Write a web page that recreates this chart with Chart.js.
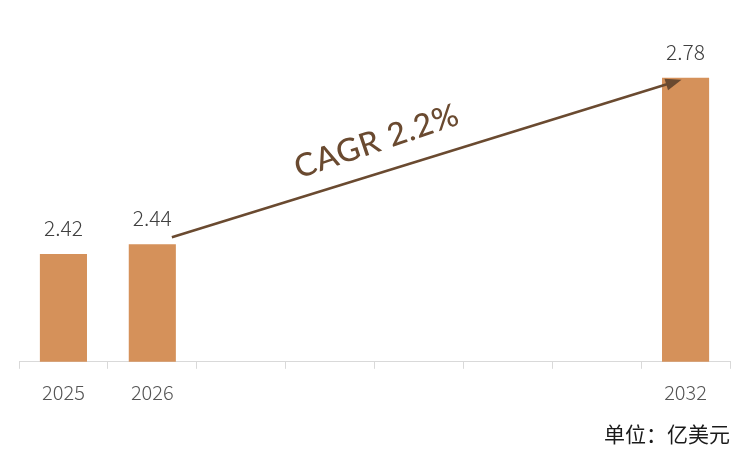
<!DOCTYPE html>
<html>
<head>
<meta charset="utf-8">
<script src="https://cdn.jsdelivr.net/npm/chart.js@4.4.1/dist/chart.umd.min.js"></script>
<style>
  html, body { margin: 0; padding: 0; background: #fff; }
  #wrap { width: 750px; height: 460px; position: relative; }
</style>
</head>
<body>
<div id="wrap"><canvas id="cagr-chart"></canvas></div>
<script>
var years = ['2025', '2026', '2027', '2028', '2029', '2030', '2031', '2032'];
var values = [2.42, 2.44, null, null, null, null, null, 2.78];
var cagrLabel = 'CAGR 2.2%';
var unitLabel = '单位：亿美元';

var FONT = '"Noto Sans CJK SC", "Noto Sans", sans-serif';
var BROWN = '#6A4A30';

// value labels above each bar
var valueLabels = {
    id: 'valueLabels',
    afterDatasetsDraw: function(chart) {
        var ctx = chart.ctx;
        var meta = chart.getDatasetMeta(0);
        ctx.save();
        ctx.font = '300 21px ' + FONT;
        ctx.fillStyle = '#404040';
        ctx.textAlign = 'center';
        ctx.textBaseline = 'middle';
        meta.data.forEach(function(bar, i) {
            if (values[i] == null) return;
            ctx.fillText(values[i].toFixed(2), bar.x, bar.y - 26);
        });
        ctx.restore();
    }
};

// growth arrow from 2026 to 2032 with CAGR text
var cagrArrow = {
    id: 'cagrArrow',
    afterDatasetsDraw: function(chart) {
        var ctx = chart.ctx;
        var meta = chart.getDatasetMeta(0);
        var a = meta.data[1], b = meta.data[7];
        var x1 = a.x + a.width / 2 - 4, y1 = a.y - 7;
        var x2 = b.x - 4, y2 = b.y + 2;
        var ang = Math.atan2(y2 - y1, x2 - x1);

        ctx.save();
        ctx.strokeStyle = BROWN;
        ctx.fillStyle = BROWN;
        ctx.lineWidth = 2.5;
        ctx.beginPath();
        ctx.moveTo(x1, y1);
        ctx.lineTo(x2 - 12 * Math.cos(ang), y2 - 12 * Math.sin(ang));
        ctx.stroke();

        ctx.beginPath();
        ctx.moveTo(x2, y2);
        ctx.lineTo(x2 - 16 * Math.cos(ang) + 6 * Math.sin(ang), y2 - 16 * Math.sin(ang) - 6 * Math.cos(ang));
        ctx.lineTo(x2 - 16 * Math.cos(ang) - 6 * Math.sin(ang), y2 - 16 * Math.sin(ang) + 6 * Math.cos(ang));
        ctx.closePath();
        ctx.fill();

        // text sits above the line, a bit before its middle
        var t = 0.42;
        var px = x1 + (x2 - x1) * t, py = y1 + (y2 - y1) * t;
        ctx.translate(px + 31 * Math.sin(ang), py - 31 * Math.cos(ang));
        ctx.rotate(ang - 0.025);
        ctx.font = '500 32px Lato, "Open Sans", sans-serif';
        ctx.letterSpacing = '0.8px';
        ctx.textAlign = 'center';
        ctx.textBaseline = 'middle';
        ctx.fillText(cagrLabel, 0, 0);
        ctx.restore();
    }
};

new Chart(document.getElementById('cagr-chart'), {
    type: 'bar',
    data: {
        labels: years,
        datasets: [{
            data: values,
            backgroundColor: '#D5915A',
            borderWidth: 0,
            barPercentage: 0.53,
            categoryPercentage: 1.0
        }]
    },
    options: {
        responsive: true,
        maintainAspectRatio: false,
        animation: false,
        layout: {
            padding: { left: 19, right: 20, top: 19, bottom: 0 }
        },
        plugins: {
            legend: { display: false },
            tooltip: { enabled: false },
            title: {
                display: true,
                text: unitLabel,
                position: 'bottom',
                align: 'end',
                color: '#1a1a1a',
                font: { family: FONT, size: 21, weight: 'normal' },
                padding: { top: 0, bottom: 13 }
            }
        },
        scales: {
            x: {
                offset: true,
                grid: {
                    offset: true,
                    drawOnChartArea: false,
                    drawTicks: true,
                    tickLength: 7,
                    color: '#D9D9D9'
                },
                border: { color: '#D9D9D9', width: 1 },
                ticks: {
                    color: '#555555',
                    font: { family: FONT, size: 20, weight: 300 },
                    padding: 12,
                    callback: function(v, i) {
                        return values[i] == null ? '' : years[i];
                    }
                },
                afterFit: function(scale) { scale.height = 60; }
            },
            y: {
                display: false,
                min: 2.2,
                max: 2.9
            }
        }
    },
    plugins: [valueLabels, cagrArrow]
});
</script>
</body>
</html>
